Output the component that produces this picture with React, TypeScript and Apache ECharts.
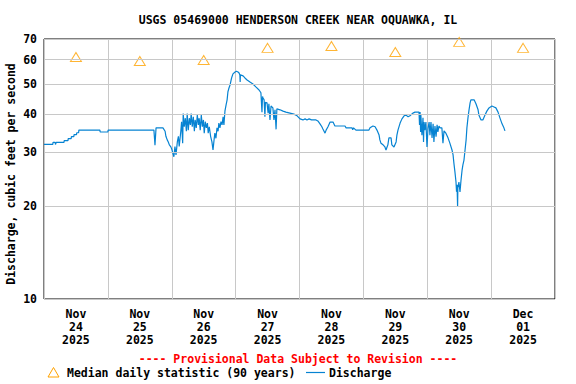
import React, { useEffect, useRef } from 'react';
import * as echarts from 'echarts';

const titleText = 'USGS 05469000 HENDERSON CREEK NEAR OQUAWKA, IL';
const yAxisTitle = 'Discharge, cubic feet per second';
const provisionalText = '---- Provisional Data Subject to Revision ----';
const legendMedian = 'Median daily statistic (90 years)';
const legendDischarge = 'Discharge';

const dayLabels = [
  'Nov\n24\n2025', 'Nov\n25\n2025', 'Nov\n26\n2025', 'Nov\n27\n2025',
  'Nov\n28\n2025', 'Nov\n29\n2025', 'Nov\n30\n2025', 'Dec\n01\n2025',
];
const yTicks = [10, 20, 30, 40, 50, 60, 70];

// hours since Nov 24 00:00
const medianHours = [12, 36, 60, 84, 108, 132, 156, 180];
const medianValues = [61.2, 59.4, 59.8, 65.5, 66.4, 63.5, 68.5, 65.5];

const dischargeHours = [
  0, 3.3, 3.4, 4.2, 4.3, 4.5, 4.6, 7.5, 7.6, 9.0, 9.1, 10.2, 10.3, 11.2, 11.3, 12.2, 12.3, 13.0, 13.1, 21.0, 21.1, 24.0, 24.1, 41.3,
  41.7, 42.1, 44.7, 45.5, 45.8, 46.3, 46.7, 47.1, 47.6, 48.0, 48.4, 48.8, 49.2, 49.6, 50.1, 50.5, 50.8, 51.4, 51.7, 52.1, 52.3, 52.7,
  53.1, 53.5, 53.8, 54.2, 54.6, 55.0, 55.3, 55.7, 56.1, 56.5, 56.8, 57.2, 57.6, 58.0, 58.3, 58.7, 59.1, 59.5, 59.9, 60.2, 60.6, 61.0,
  61.4, 61.7, 62.1, 62.6, 63.1, 63.5, 63.9, 64.2, 64.6, 65.0, 65.4, 65.7, 66.1, 66.5, 66.9, 67.3, 67.6, 68.0, 68.4, 68.8, 69.1, 69.5,
  69.9, 70.3, 70.6, 71.0, 71.8, 72.3, 72.9, 73.3, 73.6, 73.7, 73.8, 74.8, 75.5, 76.3, 77.4, 78.5, 79.6, 80.8, 81.5, 81.9, 82.1, 82.3,
  82.7, 83.0, 83.2, 83.8, 84.2, 84.5, 84.9, 85.3, 86.0, 86.4, 86.8, 87.2, 87.5, 88.7, 89.8, 90.9, 92.4, 93.9, 95.1, 96.2, 97.3, 98.1,
  98.8, 99.6, 100.5, 102.2, 102.9, 103.7, 104.4, 104.8, 105.6, 106.0, 106.7, 107.5, 108.6, 109.3, 113.1, 113.5, 115.7, 116.0, 116.3,
  117.2, 122.1, 122.5, 123.6, 124.4, 125.1, 125.9, 126.2, 126.6, 127.4, 128.1, 128.5, 128.9, 129.2, 129.6, 130.4, 130.7, 131.5, 132.3,
  132.6, 133.0, 133.8, 134.5, 135.3, 136.0, 136.8, 137.5, 138.6, 139.4, 140.9, 141.1, 141.3, 141.5, 141.6, 142.0, 142.4, 142.6, 142.8,
  143.1, 143.5, 143.9, 144.3, 144.7, 145.0, 145.4, 145.8, 146.2, 146.5, 146.9, 147.3, 147.7, 148.0, 148.4, 148.8, 149.5, 149.9, 150.3,
  151.0, 151.8, 152.5, 153.3, 153.7, 154.0, 154.4, 154.8, 155.0, 155.2, 155.4, 155.5, 155.9, 156.3, 156.7, 157.1, 157.4, 157.8, 158.2,
  158.6, 158.9, 159.3, 159.7, 160.1, 160.4, 161.6, 162.3, 163.1, 163.4, 164.2, 164.9, 165.7, 166.4, 167.2, 168.3, 169.1, 169.8, 170.6,
  171.3, 172.1, 172.8, 173.2,
];
const dischargeValues = [
  31.8, 31.8, 32.3, 32.3, 31.8, 31.8, 32.3, 32.3, 32.7, 32.7, 33.2, 33.2, 33.7, 33.7, 34.2, 34.2, 34.7, 34.7, 35.4, 35.4, 34.9, 34.9, 35.4, 35.4,
  31.6, 36.0, 36.0, 35.1, 33.8, 32.9, 32.4, 31.7, 31.3, 30.7, 29.8, 29.0, 31.3, 29.4, 32.4, 33.8, 31.3, 35.1, 37.7, 32.1, 40.1, 36.3,
  38.7, 35.1, 40.1, 35.4, 38.7, 36.8, 40.1, 36.3, 39.1, 35.1, 38.2, 36.0, 39.6, 36.8, 38.7, 35.4, 39.6, 36.3, 38.2, 34.6, 37.7, 36.0,
  37.3, 34.6, 36.3, 33.8, 32.4, 30.5, 32.9, 34.6, 33.3, 36.0, 35.1, 37.3, 36.0, 37.7, 36.8, 39.1, 36.8, 40.9, 42.7, 44.4, 47.1, 48.5,
  49.6, 51.5, 52.7, 53.9, 54.7, 55.0, 54.7, 54.3, 53.5, 50.7, 53.5, 53.1, 52.3, 51.5, 50.7, 50.0, 48.9, 47.8, 46.8, 40.5, 45.5, 45.0,
  44.4, 39.1, 43.6, 43.4, 40.2, 43.1, 38.2, 42.4, 41.8, 38.2, 41.2, 35.6, 41.5, 41.2, 40.8, 40.5, 40.2, 39.9, 39.4, 38.5, 38.2, 38.5,
  38.2, 38.5, 38.2, 38.2, 37.9, 37.1, 36.3, 35.7, 34.6, 35.4, 36.3, 37.6, 37.6, 36.5, 36.5, 36.0, 36.0, 35.5, 36.0,
  35.4, 35.4, 36.0, 36.5, 36.3, 35.4, 34.1, 32.9, 32.1, 31.7, 31.2, 30.5, 31.2, 31.7, 33.4, 33.4, 31.7, 31.2, 32.4,
  34.1, 35.4, 37.3, 38.5, 39.4, 39.6, 39.1, 39.4, 40.2, 40.5, 40.5, 36.8, 40.5, 34.9, 39.6, 34.1, 38.8, 32.4, 37.6,
  35.4, 37.6, 31.2, 36.0, 37.6, 34.1, 37.6, 33.4, 37.1, 32.4, 36.5, 33.7, 36.8, 34.9, 36.5, 36.0, 36.0, 32.1, 35.2,
  34.6, 33.4, 32.1, 30.5, 29.4, 27.7, 25.9, 24.0, 22.3, 23.5, 19.9, 23.0, 24.0, 22.3, 24.4, 26.3, 27.3, 28.3, 30.5,
  32.9, 36.0, 38.8, 41.2, 43.4, 44.4, 44.4, 43.1, 41.2, 39.6, 38.2, 38.2, 39.6, 40.8, 41.8, 42.4, 42.1, 41.8, 40.5,
  38.8, 37.1, 36.0, 35.2,
];

const FONT = "'DejaVu Sans Mono', 'Liberation Mono', monospace";
const BLUE = '#0683d2';
const ORANGE = '#ffa200';
const GRID = '#c8c8c8';

export default function App() {
  const ref = useRef<HTMLDivElement>(null);
  useEffect(() => {
    if (!ref.current) return;
    const chart = echarts.init(ref.current, undefined, { renderer: 'svg' });
    const txt = { fontFamily: FONT, fontWeight: 'bold' as const, fontSize: 11.5, fill: '#000' };
    chart.setOption({
      animation: false,
      backgroundColor: '#fff',
      grid: { left: 44, top: 39, width: 511, height: 260, show: true, borderColor: '#000', borderWidth: 1, backgroundColor: 'transparent' },
      xAxis: [
        {
          type: 'category', data: dayLabels, boundaryGap: true,
          axisLine: { show: false }, axisTick: { show: false },
          splitLine: { show: true, interval: 0, lineStyle: { color: GRID, width: 1 } },
          axisLabel: { interval: 0, margin: 8, lineHeight: 13, fontFamily: FONT, fontWeight: 'bold', fontSize: 11.5, color: '#000' },
        },
        { type: 'value', min: 0, max: 192, show: false },
      ],
      yAxis: {
        type: 'log', logBase: 10, min: 10, max: 70,
        axisLabel: { show: false }, axisTick: { show: false }, axisLine: { show: false }, splitLine: { show: false },
      },
      series: [
        {
          type: 'line', xAxisIndex: 1, data: [], z: 1, silent: true,
          markLine: {
            silent: true, symbol: ['none', 'none'],
            lineStyle: { color: GRID, type: 'solid', width: 1 },
            label: { position: 'start', distance: 7, formatter: '{c}', fontFamily: FONT, fontWeight: 'bold', fontSize: 11.5, color: '#000' },
            data: yTicks.map((v) => ({ yAxis: v })),
          },
        },
        {
          name: legendDischarge, type: 'line', xAxisIndex: 1, z: 3, showSymbol: false,
          lineStyle: { color: BLUE, width: 1.2 }, itemStyle: { color: BLUE },
          data: dischargeHours.map((h, i) => [h, dischargeValues[i]]),
        },
        {
          name: legendMedian, type: 'scatter', xAxisIndex: 1, z: 4, symbol: 'triangle', symbolSize: [11, 9],
          itemStyle: { color: 'rgba(255,255,255,0)', borderColor: ORANGE, borderWidth: 1 },
          data: medianHours.map((h, i) => [h, medianValues[i]]),
        },
      ],
      graphic: [
        { type: 'text', x: 298, y: 20, style: { ...txt, text: titleText, align: 'center', verticalAlign: 'middle' } },
        { type: 'text', x: 11, y: 174, rotation: Math.PI / 2, style: { ...txt, text: yAxisTitle, align: 'center', verticalAlign: 'middle' } },
        { type: 'text', x: 298, y: 359, style: { ...txt, text: provisionalText, fill: '#ff0000', align: 'center', verticalAlign: 'middle' } },
        { type: 'polygon', shape: { points: [[53.5, 367.5], [48, 377], [59, 377]] }, style: { fill: '#fff', stroke: ORANGE, lineWidth: 1 } },
        { type: 'text', x: 67, y: 373, style: { ...txt, text: legendMedian, align: 'left', verticalAlign: 'middle' } },
        { type: 'line', shape: { x1: 306, y1: 372.5, x2: 325, y2: 372.5 }, style: { stroke: BLUE, lineWidth: 1.2 } },
        { type: 'text', x: 329, y: 373, style: { ...txt, text: legendDischarge, align: 'left', verticalAlign: 'middle' } },
      ],
    });
    return () => chart.dispose();
  }, []);
  return <div ref={ref} style={{ position: 'fixed', left: 0, top: 0, width: 576, height: 384 }} />;
}
